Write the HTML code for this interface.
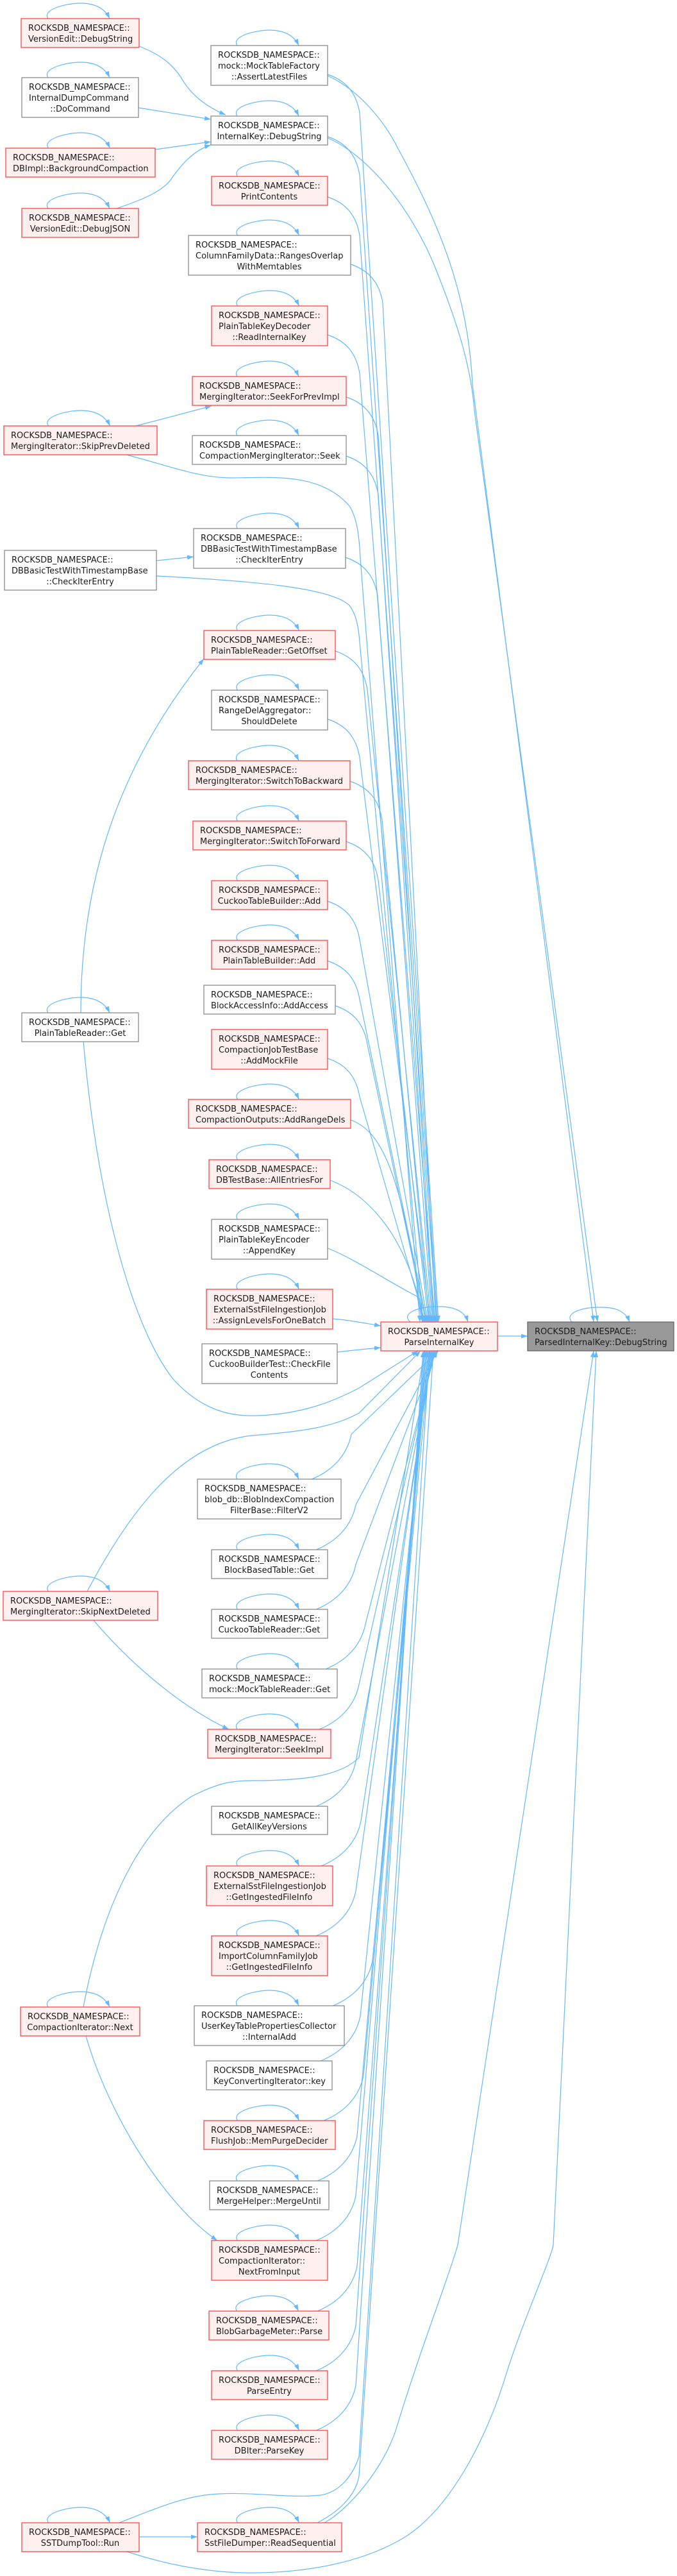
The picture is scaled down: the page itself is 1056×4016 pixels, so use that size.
<!DOCTYPE html>
<html><head><meta charset="utf-8"><style>
html,body{margin:0;padding:0;background:#fff;}
svg{display:block;}
text{font-family:"DejaVu Sans","Liberation Sans",sans-serif;font-size:13px;fill:#1a1a1a;}
.r{fill:#fff0f0;stroke:#ff4545;stroke-width:1.3;}
.g{fill:#fff;stroke:#8c8c8c;stroke-width:1.3;}
.q{fill:#999;stroke:#666;stroke-width:1.3;}
.e{fill:none;stroke:#63b8ff;stroke-width:1.2;}
.m{text-anchor:middle;}
</style></head><body>
<svg id="s" width="1056" height="4016" viewBox="0 0 1056 4016" xmlns="http://www.w3.org/2000/svg">
<defs><marker id="a" viewBox="0 0 10 7" refX="10" refY="3.5" markerWidth="10" markerHeight="7" markerUnits="userSpaceOnUse" orient="auto"><path d="M0,0 L10,3.5 L0,7 z" fill="#63b8ff"/></marker></defs>
<g id="edges"></g>
<g id="nodes">
<!-- Left column -->
<rect class="r" x="33" y="29" width="184" height="45"/><text x="44" y="48">ROCKSDB_NAMESPACE::</text><text x="44" y="65">VersionEdit::DebugString</text>
<rect class="g" x="34" y="121" width="182" height="62"/><text x="45" y="140">ROCKSDB_NAMESPACE::</text><text x="45" y="157">InternalDumpCommand</text><text class="m" x="125" y="174">::DoCommand</text>
<rect class="r" x="9" y="231" width="233" height="45"/><text x="20" y="250">ROCKSDB_NAMESPACE::</text><text x="20" y="267">DBImpl::BackgroundCompaction</text>
<rect class="r" x="34" y="325" width="182" height="45"/><text x="45" y="344">ROCKSDB_NAMESPACE::</text><text class="m" x="125" y="361">VersionEdit::DebugJSON</text>
<rect class="r" x="6" y="664" width="239" height="45"/><text x="17" y="683">ROCKSDB_NAMESPACE::</text><text x="17" y="700">MergingIterator::SkipPrevDeleted</text>
<rect class="g" x="7" y="858" width="237" height="62"/><text x="18" y="877">ROCKSDB_NAMESPACE::</text><text x="18" y="894">DBBasicTestWithTimestampBase</text><text class="m" x="125" y="911">::CheckIterEntry</text>
<rect class="g" x="34" y="1579" width="182" height="45"/><text x="45" y="1598">ROCKSDB_NAMESPACE::</text><text class="m" x="125" y="1615">PlainTableReader::Get</text>
<rect class="r" x="5" y="2481" width="241" height="45"/><text x="16" y="2500">ROCKSDB_NAMESPACE::</text><text x="16" y="2517">MergingIterator::SkipNextDeleted</text>
<rect class="r" x="32" y="3129" width="186" height="45"/><text x="43" y="3148">ROCKSDB_NAMESPACE::</text><text class="m" x="125" y="3165">CompactionIterator::Next</text>
<rect class="r" x="34" y="3933" width="183" height="45"/><text x="45" y="3952">ROCKSDB_NAMESPACE::</text><text class="m" x="125" y="3969">SSTDumpTool::Run</text>
<!-- Middle column -->
<rect class="g" x="329" y="71" width="182" height="62"/><text x="340" y="90">ROCKSDB_NAMESPACE::</text><text x="340" y="107">mock::MockTableFactory</text><text class="m" x="420" y="124">::AssertLatestFiles</text>
<rect class="g" x="329" y="181" width="182" height="45"/><text x="340" y="200">ROCKSDB_NAMESPACE::</text><text class="m" x="420" y="217">InternalKey::DebugString</text>
<rect class="r" x="330" y="275" width="181" height="45"/><text x="341" y="294">ROCKSDB_NAMESPACE::</text><text class="m" x="420" y="311">PrintContents</text>
<rect class="g" x="294" y="367" width="253" height="62"/><text x="305" y="386">ROCKSDB_NAMESPACE::</text><text x="305" y="403">ColumnFamilyData::RangesOverlap</text><text class="m" x="420" y="420">WithMemtables</text>
<rect class="r" x="330" y="477" width="181" height="62"/><text x="341" y="496">ROCKSDB_NAMESPACE::</text><text x="341" y="513">PlainTableKeyDecoder</text><text class="m" x="420" y="530">::ReadInternalKey</text>
<rect class="r" x="300" y="587" width="240" height="45"/><text x="311" y="606">ROCKSDB_NAMESPACE::</text><text x="311" y="623">MergingIterator::SeekForPrevImpl</text>
<rect class="g" x="300" y="679" width="240" height="45"/><text x="311" y="698">ROCKSDB_NAMESPACE::</text><text x="311" y="715">CompactionMergingIterator::Seek</text>
<rect class="g" x="302" y="824" width="237" height="62"/><text x="313" y="843">ROCKSDB_NAMESPACE::</text><text x="313" y="860">DBBasicTestWithTimestampBase</text><text class="m" x="420" y="877">::CheckIterEntry</text>
<rect class="r" x="318" y="983" width="205" height="45"/><text x="329" y="1002">ROCKSDB_NAMESPACE::</text><text x="329" y="1019">PlainTableReader::GetOffset</text>
<rect class="g" x="330" y="1076" width="181" height="62"/><text x="341" y="1095">ROCKSDB_NAMESPACE::</text><text x="341" y="1112">RangeDelAggregator::</text><text class="m" x="420" y="1129">ShouldDelete</text>
<rect class="r" x="294" y="1186" width="252" height="45"/><text x="305" y="1205">ROCKSDB_NAMESPACE::</text><text x="305" y="1222">MergingIterator::SwitchToBackward</text>
<rect class="r" x="301" y="1280" width="239" height="45"/><text x="312" y="1299">ROCKSDB_NAMESPACE::</text><text x="312" y="1316">MergingIterator::SwitchToForward</text>
<rect class="r" x="330" y="1373" width="181" height="45"/><text x="341" y="1392">ROCKSDB_NAMESPACE::</text><text class="m" x="420" y="1409">CuckooTableBuilder::Add</text>
<rect class="r" x="330" y="1466" width="181" height="45"/><text x="341" y="1485">ROCKSDB_NAMESPACE::</text><text class="m" x="420" y="1502">PlainTableBuilder::Add</text>
<rect class="g" x="318" y="1536" width="205" height="45"/><text x="329" y="1555">ROCKSDB_NAMESPACE::</text><text x="329" y="1572">BlockAccessInfo::AddAccess</text>
<rect class="r" x="330" y="1605" width="181" height="62"/><text x="341" y="1624">ROCKSDB_NAMESPACE::</text><text x="341" y="1641">CompactionJobTestBase</text><text class="m" x="420" y="1658">::AddMockFile</text>
<rect class="r" x="294" y="1714" width="253" height="45"/><text x="305" y="1733">ROCKSDB_NAMESPACE::</text><text x="305" y="1750">CompactionOutputs::AddRangeDels</text>
<rect class="r" x="326" y="1808" width="189" height="45"/><text x="337" y="1827">ROCKSDB_NAMESPACE::</text><text x="337" y="1844">DBTestBase::AllEntriesFor</text>
<rect class="g" x="330" y="1901" width="181" height="62"/><text x="341" y="1920">ROCKSDB_NAMESPACE::</text><text x="341" y="1937">PlainTableKeyEncoder</text><text class="m" x="420" y="1954">::AppendKey</text>
<rect class="r" x="322" y="2010" width="197" height="62"/><text x="333" y="2029">ROCKSDB_NAMESPACE::</text><text x="333" y="2046">ExternalSstFileIngestionJob</text><text class="m" x="420" y="2063">::AssignLevelsForOneBatch</text>
<rect class="g" x="315" y="2095" width="211" height="62"/><text x="326" y="2114">ROCKSDB_NAMESPACE::</text><text x="326" y="2131">CuckooBuilderTest::CheckFile</text><text class="m" x="420" y="2148">Contents</text>
<rect class="g" x="308" y="2306" width="224" height="62"/><text x="319" y="2325">ROCKSDB_NAMESPACE::</text><text x="319" y="2342">blob_db::BlobIndexCompaction</text><text class="m" x="420" y="2359">FilterBase::FilterV2</text>
<rect class="g" x="330" y="2416" width="181" height="45"/><text x="341" y="2435">ROCKSDB_NAMESPACE::</text><text class="m" x="420" y="2452">BlockBasedTable::Get</text>
<rect class="g" x="330" y="2509" width="181" height="45"/><text x="341" y="2528">ROCKSDB_NAMESPACE::</text><text class="m" x="420" y="2545">CuckooTableReader::Get</text>
<rect class="g" x="315" y="2602" width="211" height="45"/><text x="326" y="2621">ROCKSDB_NAMESPACE::</text><text x="326" y="2638">mock::MockTableReader::Get</text>
<rect class="r" x="324" y="2696" width="192" height="45"/><text x="335" y="2715">ROCKSDB_NAMESPACE::</text><text x="335" y="2732">MergingIterator::SeekImpl</text>
<rect class="g" x="330" y="2816" width="181" height="44"/><text x="341" y="2835">ROCKSDB_NAMESPACE::</text><text class="m" x="420" y="2852">GetAllKeyVersions</text>
<rect class="r" x="322" y="2909" width="197" height="62"/><text x="333" y="2928">ROCKSDB_NAMESPACE::</text><text x="333" y="2945">ExternalSstFileIngestionJob</text><text class="m" x="420" y="2962">::GetIngestedFileInfo</text>
<rect class="r" x="330" y="3018" width="181" height="62"/><text x="341" y="3037">ROCKSDB_NAMESPACE::</text><text x="341" y="3054">ImportColumnFamilyJob</text><text class="m" x="420" y="3071">::GetIngestedFileInfo</text>
<rect class="g" x="303" y="3127" width="234" height="62"/><text x="314" y="3146">ROCKSDB_NAMESPACE::</text><text x="314" y="3163">UserKeyTablePropertiesCollector</text><text class="m" x="420" y="3180">::InternalAdd</text>
<rect class="g" x="322" y="3213" width="196" height="45"/><text x="333" y="3232">ROCKSDB_NAMESPACE::</text><text x="333" y="3249">KeyConvertingIterator::key</text>
<rect class="r" x="318" y="3306" width="205" height="45"/><text x="329" y="3325">ROCKSDB_NAMESPACE::</text><text x="329" y="3342">FlushJob::MemPurgeDecider</text>
<rect class="g" x="327" y="3400" width="186" height="45"/><text x="338" y="3419">ROCKSDB_NAMESPACE::</text><text x="338" y="3436">MergeHelper::MergeUntil</text>
<rect class="r" x="330" y="3493" width="181" height="62"/><text x="341" y="3512">ROCKSDB_NAMESPACE::</text><text x="341" y="3529">CompactionIterator::</text><text class="m" x="420" y="3546">NextFromInput</text>
<rect class="r" x="326" y="3603" width="187" height="45"/><text x="337" y="3622">ROCKSDB_NAMESPACE::</text><text x="337" y="3639">BlobGarbageMeter::Parse</text>
<rect class="r" x="330" y="3696" width="181" height="45"/><text x="341" y="3715">ROCKSDB_NAMESPACE::</text><text class="m" x="420" y="3732">ParseEntry</text>
<rect class="r" x="330" y="3789" width="181" height="45"/><text x="341" y="3808">ROCKSDB_NAMESPACE::</text><text class="m" x="420" y="3825">DBIter::ParseKey</text>
<rect class="r" x="308" y="3933" width="225" height="45"/><text x="319" y="3952">ROCKSDB_NAMESPACE::</text><text x="319" y="3969">SstFileDumper::ReadSequential</text>
<!-- Right -->
<rect class="r" x="594" y="2061" width="182" height="45"/><text x="605" y="2080">ROCKSDB_NAMESPACE::</text><text class="m" x="685" y="2097">ParseInternalKey</text>
<rect class="q" x="823" y="2061" width="228" height="45"/><text x="834" y="2080">ROCKSDB_NAMESPACE::</text><text x="834" y="2097">ParsedInternalKey::DebugString</text>
</g>
<script>
(function(){
var g=document.getElementById('edges'),NS='http://www.w3.org/2000/svg';
function P(d){var p=document.createElementNS(NS,'path');p.setAttribute('d',d);p.setAttribute('class','e');p.setAttribute('marker-end','url(#a)');g.appendChild(p);}
// self loops
var loops=[[33,29,184],[34,121,182],[9,231,233],[34,325,182],[6,664,239],[34,1579,182],[5,2481,241],[32,3129,186],[34,3933,183],
[329,71,182],[329,181,182],[330,275,181],[294,367,253],[330,477,181],[300,587,240],[300,679,240],[302,824,237],[318,983,205],[330,1076,181],[294,1186,252],[301,1280,239],[330,1373,181],[330,1466,181],[294,1714,253],[326,1808,189],[330,1901,181],[322,2010,197],
[308,2306,224],[330,2416,181],[330,2509,181],[315,2602,211],[324,2696,192],[322,2909,197],[330,3018,181],[303,3127,234],[318,3306,205],[327,3400,186],[330,3493,181],[326,3603,187],[330,3696,181],[330,3789,181],[308,3933,225]];
loops.forEach(function(n){var cx=n[0]+n[2]/2,y=n[1];P('M'+(cx-50)+','+y+' C'+(cx-60)+','+(y-14)+' '+(cx-22)+','+(y-24)+' '+cx+','+(y-24)+' C'+(cx+22)+','+(y-24)+' '+(cx+38)+','+(y-17)+' '+(cx+46)+','+y);});
P('M640,2061 C625,2048 650,2037 685,2037 C710,2037 725,2045 730,2061');
P('M892,2061 C880,2048 905,2038 937,2038 C962,2038 976,2045 982,2061');
// upper middle -> ParseInternalKey top
var up=[[329,71,182,62],[329,181,182,45],[330,275,181,45],[294,367,253,62],[330,477,181,62],[300,587,240,45],[300,679,240,45],[302,824,237,62],[318,983,205,45],[330,1076,181,62],[294,1186,252,45],[301,1280,239,45],[330,1373,181,45],[330,1466,181,45],[318,1536,205,45],[330,1605,181,62],[294,1714,253,45],[326,1808,189,45],[330,1901,181,62]];
up.forEach(function(n,i){var rx=n[0]+n[2],ry=Math.round(n[1]+n[3]*0.72),tx=684-i*1.4;
if(n[1]>1700){P('M'+rx+','+ry+' C'+(rx+40)+','+(ry+15)+' '+(tx-40)+','+(ry+60)+' '+(tx-8)+','+(2061-40)+' L'+tx+',2061');}
else P('M'+rx+','+ry+' C'+(rx+30)+','+(ry+10)+' '+(rx+45)+','+(ry+30)+' '+(rx+50)+','+(ry+60)+' L'+tx+',2061');});
// lower middle -> ParseInternalKey bottom
var dn=[[308,2306,224,62],[330,2416,181,45],[330,2509,181,45],[315,2602,211,45],[324,2696,192,45],[330,2816,181,44],[322,2909,197,62],[330,3018,181,62],[303,3127,234,62],[322,3213,196,45],[318,3306,205,45],[327,3400,186,45],[330,3493,181,62],[326,3603,187,45],[330,3696,181,45],[330,3789,181,45]];
dn.forEach(function(n,i){var ex=n[0]+n[2]-18,ey=n[1],tx=684-i*1.6;if(i==0)ex=n[0]+n[2]-46;
P('M'+ex+','+ey+' C'+(ex+30)+','+(ey-12)+' '+(ex+55)+','+(ey-35)+' '+(ex+62)+','+(ey-70)+' L'+tx+',2106');});
// left -> middle
P('M217,72 C250,85 270,100 285,125 C300,150 325,168 352,179');
P('M216,168 L329,186');
P('M242,233 L329,221');
P('M182,325 C220,312 250,300 265,282 C280,260 300,235 329,226');
P('M212,664 L330,633');
P('M244,874 L302,868');
P('M126,1579 C126,1380 180,1200 318,1027');
P('M146,2526 C200,2590 280,2660 357,2696');
P('M134,3174 C170,3300 260,3440 339,3493');
P('M217,3955 L308,3955');
// left -> ParseInternalKey
P('M197,709 C260,725 310,745 360,745 C420,745 500,735 546,790 C556,808 560,830 562,870 L655,2061');
P('M244,898 C380,905 520,915 546,945 C553,955 558,970 560,990 L660,2061');
P('M130,1623 C150,1850 200,2060 270,2150 C320,2205 370,2208 400,2207 C470,2205 520,2185 560,2164 L652,2106');
P('M136,2481 C200,2360 280,2250 393,2238 C470,2232 520,2225 560,2203 L656,2106');
P('M130,3129 C160,2970 220,2850 300,2800 C340,2780 360,2776 393,2776 C470,2776 530,2770 560,2740 L662,2106');
P('M186,3933 C240,3912 290,3890 340,3888 C400,3885 450,3895 500,3890 C530,3885 550,3860 560,3830 L670,2106');
P('M495,3933 C530,3915 555,3890 560,3860 L676,2106');
// to Parsed top
P('M511,118 C560,140 600,190 620,230 C680,340 730,450 737,600 L926,2061');
P('M511,215 C570,240 640,320 680,420 C720,520 735,580 740,640 L932,2061');
// to Parsed bottom
P('M198,3978 C280,4005 350,4012 400,4011 C480,4010 560,3995 620,3962 C700,3920 760,3800 790,3700 C815,3620 860,3520 863,3500 L930,2106');
P('M506,3933 C540,3915 600,3850 620,3780 C660,3650 700,3550 714,3500 L926,2106');
// into ParseInternalKey left
P('M519,2056 C545,2058 570,2063 594,2067');
P('M526,2108 C550,2105 570,2103 594,2101');
// P -> Q
P('M776,2083 L823,2083');
})();
</script>
</svg>
</body></html>
